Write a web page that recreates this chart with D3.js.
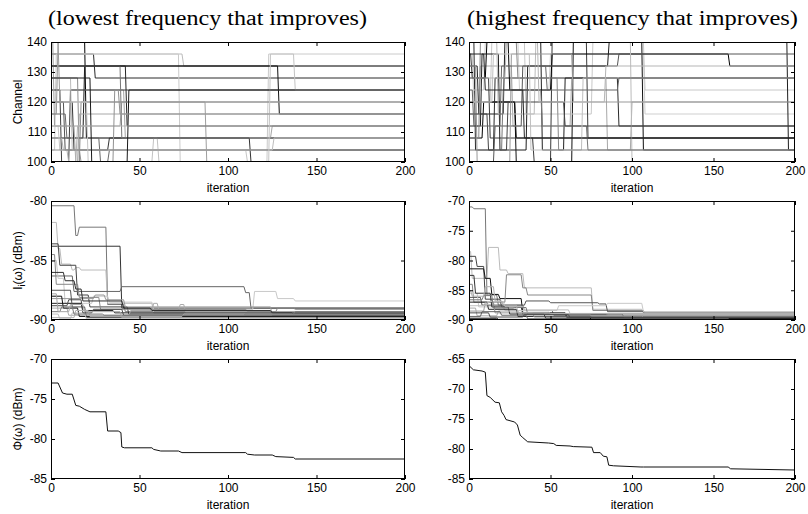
<!DOCTYPE html>
<html>
<head>
<meta charset="utf-8">
<script src="https://cdn.jsdelivr.net/npm/d3@7"></script>
<style>
  body { margin: 0; background: #fff; }
  svg text { font-family: "Liberation Sans", Arial, sans-serif; font-size: 12px; fill: #000; }
</style>
</head>
<body>
<svg id="chart" width="808" height="514"></svg>
<script>
// ---- data ----
const iterTicks = [0, 50, 100, 150, 200];
const channelTicks = [100, 110, 120, 130, 140];
const lowInterfTicks = [-90, -85, -80];
const highInterfTicks = [-90, -85, -80, -75, -70];
const lowPhiTicks = [-85, -80, -75, -70];
const highPhiTicks = [-85, -80, -75, -70, -65];

// channel of each node: [iteration it changes, new channel]
const lowChannelSteps = [
  [[0, 140], [20, 108]],
  [[0, 136], [25, 128]],
  [[0, 136], [75, 132]],
  [[0, 104], [3, 136], [73, 100], [123, 136]],
  [[0, 124], [42, 108], [125, 112]],
  [[0, 132], [129, 116]],
  [[0, 108], [19, 132]],
  [[0, 124], [6, 100], [11, 124]],
  [[0, 128], [16, 100], [17, 120]],
  [[0, 140], [2, 112], [40, 120], [88, 100]],
  [[0, 116], [9, 108], [28, 100], [33, 104]],
  [[0, 100], [58, 108], [61, 100]],
  [[0, 112], [5, 104], [111, 100]],
  [[0, 120], [13, 104], [33, 108], [113, 100]],
  [[0, 132], [40, 108]],
  [[0, 132], [43, 112]],
  [[0, 116], [4, 140], [5, 120]],
  [[0, 120], [8, 104]],
  [[0, 112], [14, 100], [16, 116]],
  [[0, 128], [12, 104], [126, 108]],
  [[0, 120], [21, 100], [124, 136], [138, 124]],
  [[0, 128], [23, 100], [44, 124]],
  [[0, 108], [7, 104], [10, 100], [15, 112]],
  [[0, 104], [17, 100], [36, 124], [39, 116]]
];
const lowChannelGreys = ["#000", "#2a2a2a", "#bcbcbc", "#cacaca", "#a6a6a6", "#101010", "#1c1c1c", "#3c3c3c",
  "#8c8c8c", "#9e9e9e", "#6a6a6a", "#c2c2c2", "#c6c6c6", "#333", "#777", "#262626", "#999", "#555",
  "#a8a8a8", "#bdbdbd", "#c4c4c4", "#1a1a1a", "#b4b4b4", "#919191"];

const highChannelSteps = [
  [[0, 120], [29, 100], [64, 140], [107, 104]],
  [[0, 108], [9, 120], [29, 108]],
  [[0, 140], [4, 104], [16, 128], [92, 112]],
  [[0, 136], [3, 120], [14, 140], [35, 116], [76, 140], [108, 124]],
  [[0, 116], [7, 132], [27, 112], [63, 128], [85, 104], [100, 120]],
  [[0, 124], [10, 140], [31, 124], [50, 136], [108, 116]],
  [[0, 132], [6, 116], [22, 140], [45, 104], [59, 128]],
  [[0, 136], [2, 128], [13, 108], [40, 100], [51, 140], [73, 108]],
  [[0, 128], [11, 140], [25, 124], [51, 136], [160, 132]],
  [[0, 112], [8, 136], [19, 104], [36, 132], [86, 140], [196, 104]],
  [[0, 100], [16, 112], [33, 132], [92, 136]],
  [[0, 140], [18, 116], [41, 140], [100, 100]],
  [[0, 104], [21, 124], [45, 112], [73, 104]],
  [[0, 132], [5, 100], [26, 136], [64, 120]],
  [[0, 116], [12, 104], [24, 120], [59, 112]],
  [[0, 120], [15, 136], [38, 104], [70, 128]],
  [[0, 124], [3, 112], [20, 132], [48, 124], [92, 128]],
  [[0, 108], [7, 140], [30, 128], [55, 104]],
  [[0, 136], [10, 124], [34, 108]],
  [[0, 128], [23, 140], [43, 120], [84, 132]]
];
const highChannelGreys = ["#111", "#000", "#2b2b2b", "#c8c8c8", "#a8a8a8", "#cfcfcf", "#222", "#3a3a3a",
  "#000", "#1e1e1e", "#555", "#bbb", "#777", "#999", "#444", "#c0c0c0", "#666", "#888", "#262626", "#b5b5b5"];

// interference of each node (dBm): [iteration it changes, new level]
const lowInterfSteps = [
  [[0, -80.4], [14, -82.9], [16, -82.2], [32, -88.7], [42, -89.3]],
  [[0, -83.8], [40, -89.0]],
  [[0, -81.8], [4, -84.0], [6, -85.3], [12, -85.8], [14, -85.6], [17, -85.8], [32, -88.6], [58, -89.4]],
  [[0, -83.6], [5, -85.4], [15, -87.9], [22, -88.9], [44, -89.5]],
  [[0, -86.3], [13, -87.6], [40, -87.2], [110, -87.7], [113, -89.0]],
  [[0, -85.0], [4, -86.5], [8, -88.6], [24, -88.0], [33, -88.5], [58, -89.1], [115, -87.6], [128, -88.2], [138, -88.4]],
  [[0, -88.2], [25, -87.9], [31, -88.3], [42, -88.9], [125, -89.6]],
  [[0, -88.6], [18, -89.2], [36, -89.4], [137, -89.5]],
  [[0, -89.0], [10, -89.6], [45, -89.2], [58, -88.6], [61, -89.2], [73, -88.7], [76, -89.3]],
  [[0, -87.5], [12, -88.9], [20, -89.8]],
  [[0, -84.5], [3, -87.0], [16, -88.1], [28, -89.1], [111, -89.3], [128, -89.0], [138, -89.1]],
  [[0, -88.0], [7, -89.0], [16, -89.7]],
  [[0, -89.5], [5, -89.9], [12, -89.4], [20, -89.9]],
  [[0, -88.8], [10, -88.3], [18, -89.4], [24, -89.1], [41, -89.6]],
  [[0, -89.8], [14, -89.2], [22, -89.7], [75, -89.5]],
  [[0, -86.0], [8, -86.7], [14, -87.4], [18, -88.4], [41, -89.0], [57, -89.2], [125, -89.4]],
  [[0, -89.3], [6, -88.9], [13, -89.5], [30, -89.6], [110, -89.5], [138, -89.3]],
  [[0, -87.8], [4, -89.3], [11, -88.7], [19, -89.3], [40, -89.8]]
];
const lowInterfGreys = ["#777", "#333", "#bbb", "#444", "#666", "#c8c8c8", "#999", "#222", "#aaa",
  "#555", "#888", "#111", "#c0c0c0", "#4a4a4a", "#b0b0b0", "#2e2e2e", "#7a7a7a", "#a5a5a5"];

const highInterfSteps = [
  [[0, -71.0], [3, -71.3], [11, -85.8], [18, -87.5], [34, -88.4], [52, -89.2]],
  [[0, -78.5], [2, -83.0], [12, -77.8], [19, -81.6], [24, -82.2], [34, -84.6], [76, -88.2], [107, -88.8]],
  [[0, -79.3], [5, -81.0], [10, -86.5], [20, -87.8], [33, -89.1]],
  [[0, -81.4], [10, -83.0], [14, -85.7], [19, -86.4], [33, -88.8], [60, -89.6]],
  [[0, -84.0], [3, -87.0], [23, -82.4], [33, -84.6], [36, -85.8], [76, -88.4], [108, -88.7]],
  [[0, -86.2], [8, -87.5], [35, -86.8], [50, -87.1], [80, -87.3], [85, -88.6], [108, -89.0]],
  [[0, -85.5], [6, -87.8], [22, -88.4], [55, -87.6], [85, -87.2], [107, -88.6]],
  [[0, -87.0], [12, -88.2], [30, -89.4]],
  [[0, -88.5], [10, -87.0], [16, -88.8], [40, -89.5], [107, -89.3]],
  [[0, -82.5], [4, -85.5], [14, -87.8], [25, -89.0], [47, -89.7]],
  [[0, -88.0], [5, -89.3], [18, -88.5], [31, -89.0], [75, -89.3]],
  [[0, -89.4], [8, -88.6], [20, -89.2], [36, -89.8]],
  [[0, -87.6], [12, -86.9], [22, -87.7], [34, -88.3], [62, -88.9], [85, -89.1]],
  [[0, -89.7], [18, -89.9], [75, -89.6], [160, -89.8]],
  [[0, -86.6], [9, -85.9], [15, -88.0], [28, -87.9], [36, -89.0], [95, -89.5]],
  [[0, -88.8], [13, -89.5], [34, -89.1], [62, -89.6]],
  [[0, -85.1], [2, -86.0], [10, -84.4], [16, -86.8], [21, -87.5], [30, -88.7], [50, -88.9]]
];
const highInterfGreys = ["#777", "#bbb", "#444", "#111", "#888", "#555", "#c8c8c8", "#222", "#999",
  "#333", "#aaa", "#666", "#bfbfbf", "#000", "#7a7a7a", "#4c4c4c", "#b0b0b0"];

// total interference Phi (dBm), vertices of the curve
const lowPhiIter = [0, 4, 6.5, 9, 12, 14, 16, 19, 22, 31, 32, 38, 39.5, 40, 41.5, 57, 58, 62, 72, 74, 110, 111, 115, 125, 127, 137, 138, 200];
const lowPhiValue = [-73.0, -73.0, -74.25, -74.4, -74.4, -75.8, -75.9, -76.3, -76.6, -76.6, -79.0, -79.0, -79.2, -81.0, -81.1, -81.1, -81.3, -81.5, -81.5, -81.7, -81.7, -81.9, -82.0, -82.0, -82.2, -82.3, -82.5, -82.5];
const highPhiIter = [0, 2.7, 8, 10, 11, 13, 16, 18.6, 20, 21.5, 22.7, 28, 29.7, 31.4, 33, 36, 48.8, 52, 53.5, 62, 64, 75.4, 76.4, 80.5, 82.4, 84.6, 85.7, 88.7, 105.5, 107, 159, 160.5, 200];
const highPhiValue = [-66.1, -66.8, -67.0, -67.2, -71.1, -71.4, -72.2, -72.3, -73.8, -74.4, -75.1, -75.5, -76.0, -77.7, -78.1, -78.8, -79.0, -79.1, -79.4, -79.5, -79.6, -79.7, -80.6, -80.6, -81.2, -81.3, -82.7, -82.8, -83.0, -83.0, -83.0, -83.3, -83.5];

// ---- drawing ----
const svg = d3.select("#chart");
const colX = [[51, 405], [469, 795]];
const rowY = [[42, 162], [201, 320], [359, 479]];

function stepPoints(steps) {
  const pts = [];
  steps.forEach((s, k) => {
    const next = steps[k + 1];
    const end = next ? next[0] - 1 : 200;
    pts.push([s[0], s[1]]);
    if (end > s[0]) pts.push([end, s[1]]);
  });
  return pts;
}

let clipId = 0;
function panel(col, row, yDomain, yTicks, yLabel) {
  const [x0, x1] = colX[col];
  const [y0, y1] = rowY[row];
  const x = d3.scaleLinear().domain([0, 200]).range([x0, x1]);
  const y = d3.scaleLinear().domain(yDomain).range([y1, y0]);
  const g = svg.append("g");

  const id = "clip" + (clipId++);
  g.append("clipPath").attr("id", id)
    .append("rect").attr("x", x0).attr("y", y0).attr("width", x1 - x0).attr("height", y1 - y0);

  const plot = g.append("g").attr("clip-path", `url(#${id})`);

  const fmt = d => String(d);
  const ax = (axis, tr, labels) => {
    const a = g.append("g").attr("transform", tr)
      .call(axis.tickSizeInner(-4).tickSizeOuter(0).tickPadding(labels ? 4 : 0)
        .tickFormat(labels ? fmt : ""));
    a.select(".domain").remove();
    a.selectAll("text").style("font-family", "'Liberation Sans', Arial, sans-serif").style("font-size", "12px");
  };
  ax(d3.axisBottom(x).tickValues(iterTicks), `translate(0,${y1})`, true);
  ax(d3.axisTop(x).tickValues(iterTicks), `translate(0,${y0})`, false);
  ax(d3.axisLeft(y).tickValues(yTicks), `translate(${x0},0)`, true);
  ax(d3.axisRight(y).tickValues(yTicks), `translate(${x1},0)`, false);

  g.append("rect").attr("x", x0 + 0.5).attr("y", y0 + 0.5)
    .attr("width", x1 - x0 - 1).attr("height", y1 - y0 - 1)
    .attr("fill", "none").attr("stroke", "#000").attr("stroke-width", 1);

  g.append("text").attr("x", (x0 + x1) / 2).attr("y", y1 + 30)
    .attr("text-anchor", "middle").text("iteration");

  if (yLabel) {
    const t = g.append("text")
      .attr("transform", `translate(22,${(y0 + y1) / 2}) rotate(-90)`)
      .attr("text-anchor", "middle");
    yLabel(t);
  }
  return { plot, x, y };
}

function drawSteps(p, series, greys) {
  const line = d3.line().x(d => p.x(d[0])).y(d => p.y(d[1]));
  p.plot.selectAll("path.node")
    .data(series)
    .enter().append("path")
    .attr("class", "node")
    .attr("d", d => line(stepPoints(d)))
    .attr("fill", "none")
    .attr("stroke", (d, i) => greys[i])
    .attr("stroke-width", 1);
}

function drawPhi(p, iters, values) {
  const line = d3.line().x(d => p.x(d[0])).y(d => p.y(d[1]));
  p.plot.append("path")
    .attr("d", line(d3.zip(iters, values)))
    .attr("fill", "none").attr("stroke", "#111").attr("stroke-width", 1);
}

// titles
const title = (x, len, txt) => svg.append("text")
  .attr("x", x).attr("y", 25)
  .style("font-family", "'Liberation Serif', 'Times New Roman', Times, serif")
  .style("font-size", "20px")
  .attr("textLength", len).attr("lengthAdjust", "spacingAndGlyphs")
  .text(txt);
title(48, 319, "(lowest frequency that improves)");
title(467, 331, "(highest frequency that improves)");

const chanLabel = t => t.text("Channel");
const interfLabel = t => {
  t.append("tspan").text("I");
  t.append("tspan").attr("font-size", "9px").attr("dy", 3).text("i");
  t.append("tspan").attr("dy", -3).text("(ω)  (dBm)");
};
const phiLabel = t => t.text("Φ(ω)  (dBm)");

drawSteps(panel(0, 0, [100, 140], channelTicks, chanLabel), lowChannelSteps, lowChannelGreys);
drawSteps(panel(1, 0, [100, 140], channelTicks, null), highChannelSteps, highChannelGreys);
drawSteps(panel(0, 1, [-90, -80], lowInterfTicks, interfLabel), lowInterfSteps, lowInterfGreys);
drawSteps(panel(1, 1, [-90, -70], highInterfTicks, null), highInterfSteps, highInterfGreys);
drawPhi(panel(0, 2, [-85, -70], lowPhiTicks, phiLabel), lowPhiIter, lowPhiValue);
drawPhi(panel(1, 2, [-85, -65], highPhiTicks, null), highPhiIter, highPhiValue);
</script>
</body>
</html>
